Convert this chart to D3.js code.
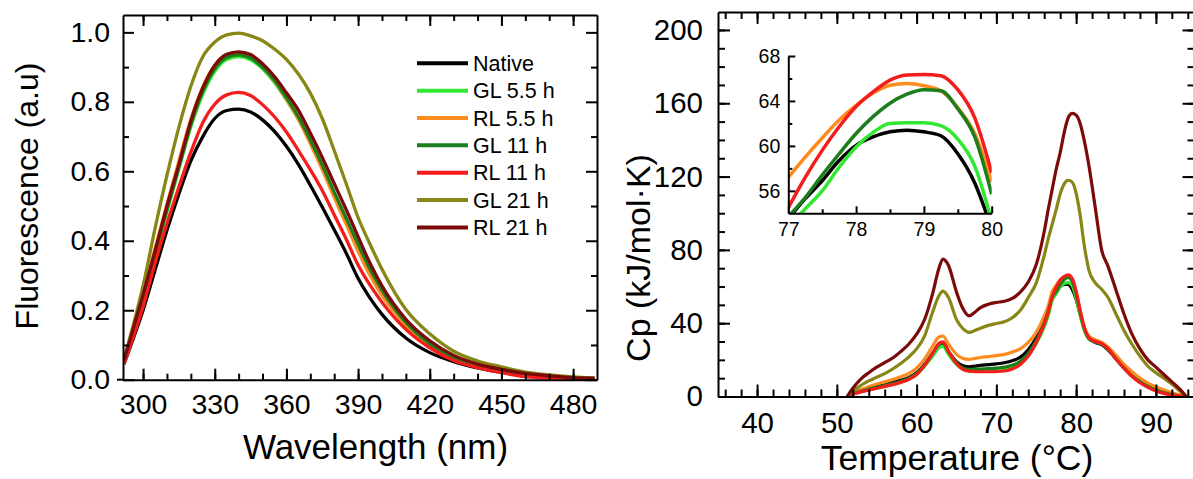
<!DOCTYPE html>
<html>
<head>
<meta charset="utf-8">
<script src="https://cdn.jsdelivr.net/npm/d3@7"></script>
<style>
  body { margin: 0; background: #fff; }
  svg text { font-family: "Liberation Sans", Arial, Helvetica, sans-serif; fill: #000; }
</style>
</head>
<body>
<div id="chart"></div>
<script>
// ---- data ----
var seriesNames = ["Native", "GL 5.5 h", "RL 5.5 h", "GL 11 h", "RL 11 h", "GL 21 h", "RL 21 h"];
var seriesColors = ["#000000", "#2fe82f", "#ff8a1e", "#1b7d1b", "#f51c1c", "#878716", "#7d0a0a"];

// fluorescence spectra
var wavelengths = [292, 296, 300, 305, 310, 315, 320, 325, 330, 335, 340, 345, 350, 355, 360, 365,
  370, 375, 380, 385, 390, 395, 400, 410, 420, 430, 440, 450, 460, 470, 480, 489];
var fluoNative = [0.045, 0.12, 0.20, 0.315, 0.43, 0.535, 0.63, 0.70, 0.752, 0.775, 0.779, 0.771, 0.748, 0.715, 0.672, 0.62,
  0.56, 0.497, 0.432, 0.365, 0.292, 0.235, 0.188, 0.12, 0.078, 0.052, 0.034, 0.021, 0.013, 0.009, 0.006, 0.004];
var fluoGL55 = [0.05, 0.143, 0.237, 0.36, 0.485, 0.607, 0.728, 0.822, 0.888, 0.922, 0.93, 0.921, 0.895, 0.856, 0.806, 0.75,
  0.683, 0.61, 0.532, 0.456, 0.382, 0.31, 0.25, 0.158, 0.099, 0.061, 0.039, 0.025, 0.015, 0.009, 0.005, 0.003];
var fluoRL55 = [0.055, 0.152, 0.25, 0.378, 0.505, 0.63, 0.75, 0.843, 0.905, 0.935, 0.94, 0.93, 0.9, 0.86, 0.808, 0.75,
  0.68, 0.605, 0.525, 0.448, 0.37, 0.3, 0.243, 0.158, 0.1, 0.062, 0.04, 0.025, 0.014, 0.008, 0.005, 0.003];
var fluoGL11 = [0.05, 0.145, 0.24, 0.365, 0.49, 0.612, 0.735, 0.83, 0.895, 0.928, 0.935, 0.926, 0.9, 0.862, 0.812, 0.757,
  0.69, 0.618, 0.54, 0.465, 0.39, 0.318, 0.258, 0.165, 0.104, 0.065, 0.042, 0.027, 0.016, 0.01, 0.006, 0.004];
var fluoRL11 = [0.045, 0.125, 0.21, 0.335, 0.45, 0.555, 0.655, 0.74, 0.793, 0.82, 0.827, 0.818, 0.792, 0.757, 0.713, 0.66,
  0.605, 0.545, 0.475, 0.405, 0.33, 0.272, 0.223, 0.145, 0.092, 0.055, 0.035, 0.02, 0.009, 0.005, 0.004, 0.003];
var fluoGL21 = [0.06, 0.16, 0.27, 0.435, 0.588, 0.727, 0.845, 0.93, 0.972, 0.993, 0.998, 0.99, 0.976, 0.952, 0.922, 0.88,
  0.825, 0.752, 0.66, 0.565, 0.467, 0.39, 0.318, 0.202, 0.132, 0.082, 0.054, 0.037, 0.022, 0.014, 0.008, 0.004];
var fluoRL21 = [0.055, 0.15, 0.245, 0.37, 0.50, 0.62, 0.745, 0.84, 0.905, 0.937, 0.944, 0.936, 0.91, 0.873, 0.826, 0.776,
  0.71, 0.64, 0.565, 0.49, 0.412, 0.335, 0.27, 0.174, 0.112, 0.07, 0.045, 0.03, 0.018, 0.011, 0.006, 0.004];

// DSC thermograms
var temps = [51.3, 52, 53, 54, 55, 56, 57, 58, 59, 60, 61, 62, 62.8, 63.3, 64, 65, 65.8, 66.6, 67.3, 68,
  69, 70, 71, 72, 73, 74, 75, 76, 76.5, 77, 77.5, 78, 78.5, 79, 79.5, 80, 80.5, 81, 81.6, 82.4,
  83.2, 84, 85, 86, 87, 88, 89, 90, 91, 92, 93, 93.8];
var cpNative = [0, 1.8, 3.3, 4.5, 5.5, 6.5, 7.6, 8.8, 10.3, 13, 17.5, 23.5, 28.3, 29, 24.5, 19, 16.8, 16.2, 16.6, 17,
  17.4, 17.8, 18.4, 19.5, 21.5, 25.5, 32, 41, 47, 53.5, 57, 60, 61.2, 61.2, 58.5, 53, 45, 37, 31.5, 29.5,
  28.3, 25.5, 20.5, 15.5, 11.5, 8.5, 6, 4, 2.5, 1.3, 0.4, 0];
var cpGL55 = [0, 1.3, 2.6, 3.6, 4.6, 5.6, 6.6, 7.8, 9.4, 12, 16.5, 22, 26.5, 27.3, 23, 17.5, 14.8, 14, 14, 14.2,
  14.4, 14.7, 15.2, 16.3, 18.5, 22.5, 29, 38, 44, 52.5, 56, 59.9, 61.7, 62.1, 60.5, 53.5, 44.5, 36.5, 31.5, 29.8,
  28.7, 26, 20.8, 15.8, 11.5, 8, 5.5, 3.5, 2, 1, 0.3, 0];
var cpRL55 = [0, 2, 3.8, 5.3, 6.8, 8, 9.3, 10.8, 12.5, 15.5, 20.5, 27.5, 32.5, 33, 28.5, 23, 20.8, 20.3, 20.8, 21.3,
  21.8, 22.3, 23, 24.3, 26, 29.5, 35, 44, 49.5, 57.2, 60.7, 63.6, 65.4, 65.4, 63.3, 57.2, 47, 38.5, 33, 31,
  29.5, 27, 22.5, 17.5, 13.5, 10, 7.3, 5.2, 3.5, 2, 0.8, 0];
var cpGL11 = [0, 1.5, 2.9, 4, 5, 6, 7, 8.2, 9.8, 12.5, 17.2, 23.5, 28.5, 29.3, 24.5, 18.5, 15.5, 14.8, 14.8, 15,
  15.2, 15.5, 16, 17, 19.2, 23.5, 30.5, 40, 46.5, 54, 57.5, 61.1, 63.8, 65, 63, 55.7, 46, 37.5, 31.8, 29.8,
  28.7, 25.8, 20.5, 15.5, 11.2, 8, 5.5, 3.5, 2, 1, 0.3, 0];
var cpRL11 = [0, 1.3, 2.5, 3.5, 4.5, 5.5, 6.5, 7.7, 9.3, 12, 17, 23.5, 29, 29.8, 24.5, 18, 14.8, 13.8, 13.6, 13.5,
  13.5, 13.6, 13.9, 15, 17.5, 22, 29.5, 39.5, 46, 54.5, 59.5, 63.5, 65.5, 66.4, 64.5, 57.5, 47, 38, 32, 30,
  29, 26, 20.5, 15.5, 11, 7.5, 5, 3, 1.7, 0.8, 0.3, 0];
var cpGL21 = [0, 3, 6, 8.5, 10.5, 12.5, 15, 18, 21.5, 26, 33, 46, 55, 57.5, 54, 42, 37, 35, 36, 37.3,
  38.8, 39.8, 40.8, 43, 47, 54, 62, 77, 86, 94, 102, 110.5, 116, 118, 117, 111, 99, 83, 69, 62,
  58.5, 54, 45, 36, 28.5, 22, 16.5, 13, 10, 6.8, 3, 0];
var cpRL21 = [0, 4.5, 9.5, 13, 16, 18.5, 21, 24.5, 28.5, 34, 42, 56, 70, 75, 71.5, 57, 48, 44, 46, 48.5,
  50.3, 51.3, 52, 53.5, 57, 62.5, 72, 90, 102, 113, 124, 133, 144, 152, 154.5, 153.5, 149, 140, 126, 103,
  80, 71, 58, 45, 34, 26, 20, 16, 12, 8, 4, 0];

// inset (zoom on the main peak)
var insetTemps = [77, 77.25, 77.5, 77.75, 78, 78.25, 78.5, 78.75, 79, 79.25, 79.5, 79.75, 80];
var insetNative = [53.5, 55.3, 56.9, 58.7, 60.05, 60.8, 61.25, 61.4, 61.25, 60.9, 59.3, 56.7, 52.6];
var insetGL55 = [52.8, 54.4, 56.0, 58.1, 59.9, 61.2, 62.0, 62.05, 62.05, 61.8, 60.6, 58.2, 53.3];
var insetRL55 = [57.2, 59.0, 60.7, 62.3, 63.6, 64.7, 65.4, 65.55, 65.35, 64.9, 63.4, 61.1, 56.8];
var insetGL11 = [53.7, 55.4, 57.4, 59.3, 61.1, 62.6, 63.8, 64.6, 65.0, 64.9, 63.3, 60.8, 55.7];
var insetRL11 = [54.5, 57.2, 59.6, 61.7, 63.5, 64.8, 65.85, 66.3, 66.36, 66.25, 65.0, 62.5, 57.6];

var fluoSeries = [fluoNative, fluoGL55, fluoRL55, fluoGL11, fluoRL11, fluoGL21, fluoRL21];
var cpSeries = [cpNative, cpGL55, cpRL55, cpGL11, cpRL11, cpGL21, cpRL21];
var insetSeries = [insetNative, insetGL55, insetRL55, insetGL11, insetRL11];

var svgWidth = 1193;
var svgHeight = 479;

var svg = d3.select("#chart")
  .append("svg")
  .attr("width", svgWidth)
  .attr("height", svgHeight);

var fontFamily = "'Liberation Sans', Arial, Helvetica, sans-serif";

// Draws one axis side with major (optionally labelled) and minor ticks pointing inwards
function drawSide(g, axisFn, scale, translate, major, minor, majLen, minLen, fmt, pad, fontSize) {
  g.append("g")
    .attr("transform", translate)
    .call(axisFn(scale).tickValues(minor).tickSizeInner(-minLen).tickSizeOuter(0).tickFormat(""))
    .call(s => s.select(".domain").remove())
    .call(s => s.selectAll(".tick line").attr("stroke", "#000").attr("stroke-width", 2));

  var ax = g.append("g")
    .attr("transform", translate)
    .call(axisFn(scale).tickValues(major).tickSizeInner(-majLen).tickSizeOuter(0)
      .tickPadding(pad).tickFormat(fmt || ""));
  ax.select(".domain").attr("stroke", "#000").attr("stroke-width", 2);
  ax.selectAll(".tick line").attr("stroke", "#000").attr("stroke-width", 2);
  ax.selectAll(".tick text")
    .attr("font-family", fontFamily)
    .attr("font-size", fontSize + "px")
    .attr("fill", "#000");
  return ax;
}

// =========== Left: fluorescence ===========
var L = { left: 123, right: 597, top: 15, bottom: 379.7 };

var xFluo = d3.scaleLinear().domain([291.6, 490]).range([L.left, L.right]);
var yFluo = d3.scaleLinear().domain([0, 1.05]).range([L.bottom, L.top]);

var leftG = svg.append("g");

leftG.append("clipPath").attr("id", "clipL")
  .append("rect")
  .attr("x", L.left).attr("y", L.top)
  .attr("width", L.right - L.left).attr("height", L.bottom - L.top);

var fluoLine = d3.line()
  .x((d, i) => xFluo(wavelengths[i]))
  .y(d => yFluo(d))
  .curve(d3.curveMonotoneX);

leftG.append("g").attr("clip-path", "url(#clipL)")
  .selectAll("path")
  .data(fluoSeries)
  .enter()
  .append("path")
  .attr("d", fluoLine)
  .attr("fill", "none")
  .attr("stroke", (d, i) => seriesColors[i])
  .attr("stroke-width", 3.3)
  .attr("stroke-linejoin", "round");

var wlMajor = [300, 330, 360, 390, 420, 450, 480];
var wlMinor = d3.range(300, 490, 10);
var flMajor = [0, 0.2, 0.4, 0.6, 0.8, 1.0];
var flMinor = [0.1, 0.3, 0.5, 0.7, 0.9];

drawSide(leftG, d3.axisBottom, xFluo, `translate(0,${L.bottom})`, wlMajor, wlMinor, 11, 6, d3.format("d"), 14.5, 28.5);
drawSide(leftG, d3.axisTop, xFluo, `translate(0,${L.top})`, wlMajor, wlMinor, 11, 6, null, 4, 28);
drawSide(leftG, d3.axisLeft, yFluo, `translate(${L.left},0)`, flMajor, flMinor, 11, 6, d3.format(".1f"), 13, 28.5);
drawSide(leftG, d3.axisRight, yFluo, `translate(${L.right},0)`, flMajor, flMinor, 11, 6, null, 4, 28);

// small overhang of the bottom axis to the left of the y axis
leftG.append("line")
  .attr("x1", L.left - 6).attr("x2", L.left)
  .attr("y1", L.bottom).attr("y2", L.bottom)
  .attr("stroke", "#000").attr("stroke-width", 2);

leftG.append("text")
  .attr("x", 375.5)
  .attr("y", 459)
  .attr("text-anchor", "middle")
  .attr("font-size", "35px")
  .text("Wavelength (nm)");

leftG.append("text")
  .attr("transform", "translate(37.5,196) rotate(-90)")
  .attr("text-anchor", "middle")
  .attr("font-size", "32px")
  .text("Fluorescence (a.u)");

// legend
var legend = leftG.append("g");
seriesNames.forEach(function(name, i) {
  var yy = 63.3 + i * 27.35;
  legend.append("line")
    .attr("x1", 417).attr("x2", 468)
    .attr("y1", yy).attr("y2", yy)
    .attr("stroke", seriesColors[i])
    .attr("stroke-width", 4);
  legend.append("text")
    .attr("x", 473)
    .attr("y", yy)
    .attr("dy", "0.36em")
    .attr("font-size", "21.5px")
    .text(name);
});

// =========== Right: DSC ===========
var R = { left: 718, right: 1194.5, top: 12, bottom: 396.5 };

var xTemp = d3.scaleLinear().domain([35.1, 94.84]).range([R.left, R.right]);
var yCp = d3.scaleLinear().domain([0, 209.8]).range([R.bottom, R.top]);

var rightG = svg.append("g");

rightG.append("clipPath").attr("id", "clipR")
  .append("rect")
  .attr("x", R.left).attr("y", R.top)
  .attr("width", R.right - R.left).attr("height", R.bottom - R.top);

var cpLine = d3.line()
  .x((d, i) => xTemp(temps[i]))
  .y(d => yCp(d))
  .curve(d3.curveMonotoneX);

rightG.append("g").attr("clip-path", "url(#clipR)")
  .selectAll("path")
  .data(cpSeries)
  .enter()
  .append("path")
  .attr("d", cpLine)
  .attr("fill", "none")
  .attr("stroke", (d, i) => seriesColors[i])
  .attr("stroke-width", 3.2)
  .attr("stroke-linejoin", "round");

var tMajor = [40, 50, 60, 70, 80, 90];
var tMinor = d3.range(36, 95, 2);
var cpMajor = [0, 40, 80, 120, 160, 200];
var cpMinor = d3.range(10, 210, 10);

drawSide(rightG, d3.axisBottom, xTemp, `translate(0,${R.bottom})`, tMajor, tMinor, 12, 7, d3.format("d"), 16, 29.5);
drawSide(rightG, d3.axisTop, xTemp, `translate(0,${R.top})`, tMajor, tMinor, 12, 7, null, 4, 29);
drawSide(rightG, d3.axisLeft, yCp, `translate(${R.left},0)`, cpMajor, cpMinor, 12, 7, d3.format("d"), 15, 29.5);
drawSide(rightG, d3.axisRight, yCp, `translate(${R.right},0)`, cpMajor, cpMinor, 12, 7, null, 4, 29);

rightG.append("text")
  .attr("x", 957)
  .attr("y", 470)
  .attr("text-anchor", "middle")
  .attr("font-size", "35.5px")
  .text("Temperature (\u00B0C)");

rightG.append("text")
  .attr("transform", "translate(650,258) rotate(-90)")
  .attr("text-anchor", "middle")
  .attr("font-size", "34px")
  .text("Cp (kJ/mol\u00B7K)");

// inset
var I = { left: 788.3, right: 991.7, top: 56, bottom: 213.3 };
var xIn = d3.scaleLinear().domain([77, 80]).range([I.left, I.right]);
var yIn = d3.scaleLinear().domain([54, 68]).range([I.bottom, I.top]);

var insetG = rightG.append("g");

insetG.append("clipPath").attr("id", "clipI")
  .append("rect")
  .attr("x", I.left).attr("y", I.top - 5)
  .attr("width", I.right - I.left).attr("height", I.bottom - I.top + 5);

var inLine = d3.line()
  .x((d, i) => xIn(insetTemps[i]))
  .y(d => yIn(d))
  .curve(d3.curveMonotoneX);

insetG.append("g").attr("clip-path", "url(#clipI)")
  .selectAll("path")
  .data(insetSeries)
  .enter()
  .append("path")
  .attr("d", inLine)
  .attr("fill", "none")
  .attr("stroke", (d, i) => seriesColors[i])
  .attr("stroke-width", 3.5)
  .attr("stroke-linejoin", "round");

drawSide(insetG, d3.axisBottom, xIn, `translate(0,${I.bottom})`, [77, 78, 79, 80], [77.5, 78.5, 79.5], 7, 4, d3.format("d"), 9, 19.5);
drawSide(insetG, d3.axisLeft, yIn, `translate(${I.left},0)`, [56, 60, 64, 68], [58, 62, 66], 7, 4, d3.format("d"), 8, 19.5);
</script>
</body>
</html>
